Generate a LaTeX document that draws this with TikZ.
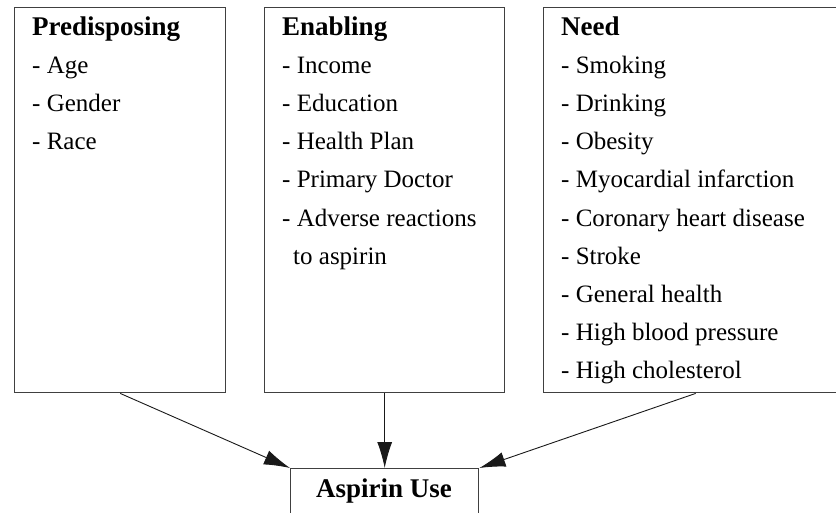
\documentclass[tikz,border=0pt]{standalone}
\usepackage{fontspec}
\setmainfont{Liberation Serif}
\usetikzlibrary{arrows.meta}
\begin{document}
\begin{tikzpicture}[x=1pt,y=-1pt,
  box/.style={draw=black!75, line width=1.4pt, rectangle, inner sep=0pt, anchor=north west},
  ttl/.style={anchor=base west, inner sep=0pt, font=\fontsize{27}{30}\selectfont\bfseries},
  itm/.style={anchor=base west, inner sep=0pt, font=\fontsize{25}{30}\selectfont},
  arr/.style={draw=black!90, line width=0.9pt, -{Latex[length=26pt,width=15pt]}}]
\useasboundingbox (0,0) rectangle (836,512);
\clip (0,0) rectangle (836,512);
% boxes
\node[box, minimum width=211pt, minimum height=385pt] (pre) at (14,7) {};
\node[box, minimum width=240pt, minimum height=385pt] (enab) at (264,7) {};
\node[box, minimum width=304pt, minimum height=385pt] (need) at (543,7) {};
\node[box, minimum width=188pt, minimum height=70pt] (asp) at (290,468) {};
% texts
\node[ttl] (pret) at (32,35) {Predisposing};
\foreach \t [count=\i] in {Age,Gender,Race}
  \node[itm] (pre\i) at (32,{35+38.2*\i}) {- \t};
\node[ttl] (enabt) at (282,35) {Enabling};
\foreach \t [count=\i] in {Income,Education,Health Plan,Primary Doctor,Adverse reactions}
  \node[itm] (enab\i) at (282,{35+38.2*\i}) {- \t};
\node[itm] (enab6) at (293,{35+38.2*6}) {to aspirin};
\node[ttl] (needt) at (561,35) {Need};
\foreach \t [count=\i] in {Smoking,Drinking,Obesity,Myocardial infarction,Coronary heart disease,Stroke,General health,High blood pressure,High cholesterol}
  \node[itm] (need\i) at (561,{35+38.2*\i}) {- \t};
\node[ttl, anchor=base] (aspt) at (384,497) {Aspirin Use};
% arrows
\draw[arr] (pre.south) -- (asp.north west);
\draw[arr] (enab.south) -- (asp.north);
\draw[arr] (need.south) -- (asp.north east);
\end{tikzpicture}
\end{document}
